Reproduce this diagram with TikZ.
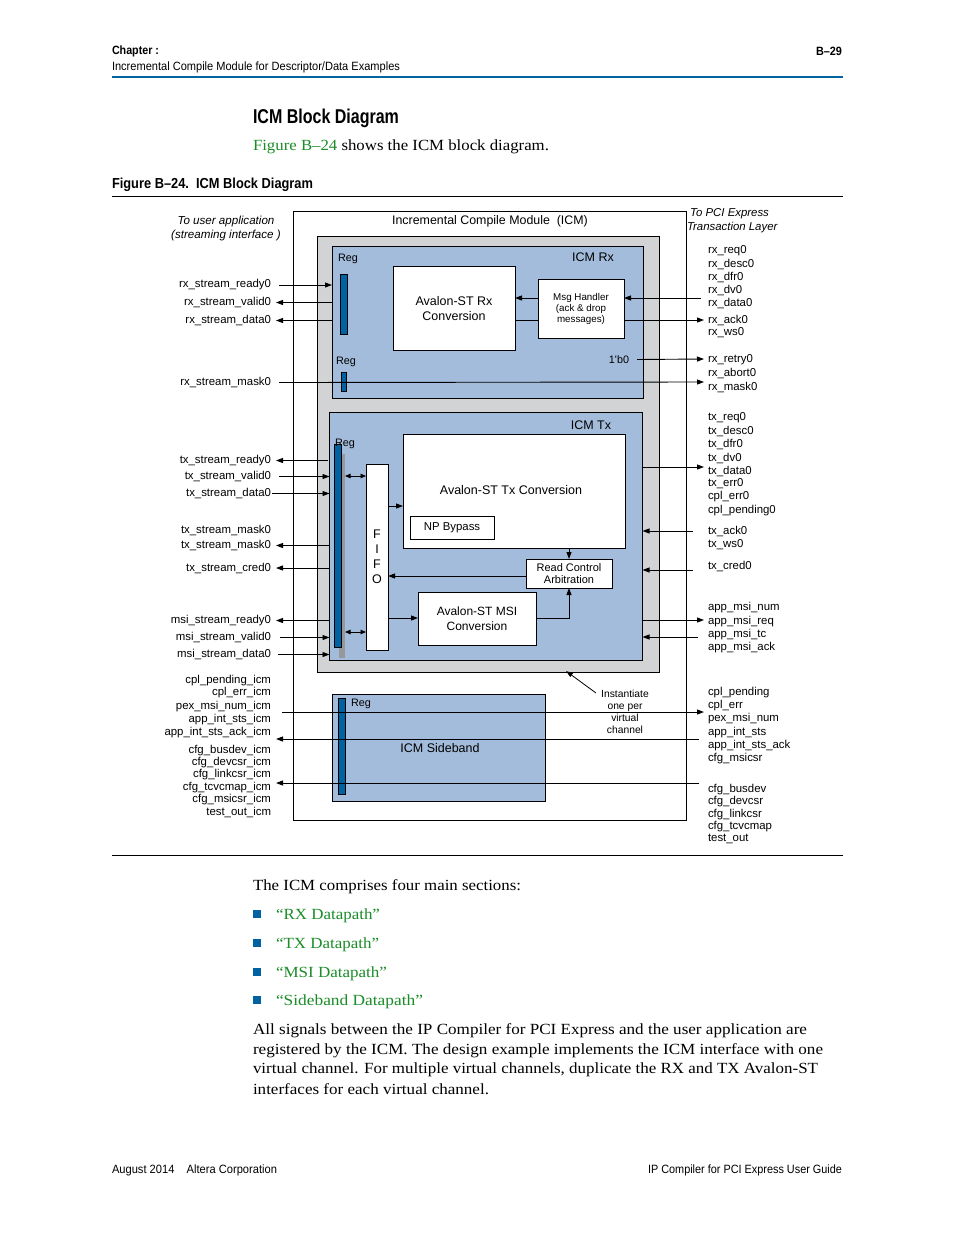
\documentclass[tikz,border=0pt]{standalone}
\usepackage{fontspec}
\usepackage{graphicx}
\setmainfont{Liberation Serif}
\setsansfont{Liberation Sans}
\usetikzlibrary{arrows.meta}
\definecolor{gbox}{RGB}{209,211,212}
\definecolor{bbox}{RGB}{164,188,219}
\definecolor{regblue}{RGB}{0,98,160}
\definecolor{shadowgray}{RGB}{150,152,155}
\definecolor{hdrblue}{RGB}{0,102,161}
\definecolor{lnkgreen}{RGB}{26,140,40}
\newcommand{\hw}[2]{\resizebox{#1pt}{\height}{#2}}
\newcommand{\hdrf}{\sffamily\fontsize{12}{14}\selectfont}
\newcommand{\bodyf}{\rmfamily\fontsize{15.5}{18}\selectfont}
\tikzset{
  sig/.style={font=\sffamily\fontsize{11.4}{13}\selectfont, inner sep=0pt, outer sep=0pt},
  L/.style={sig, anchor=east},
  R/.style={sig, anchor=west},
  txt/.style={inner sep=0pt, outer sep=0pt},
  blk/.style={draw, line width=1pt, inner sep=0pt, outer sep=0pt},
  wbox/.style={blk, fill=white, font=\sffamily\fontsize{12}{14.5}\selectfont, align=center},
  regbar/.style={blk, fill=regblue},
  ar/.style={line width=0.9pt, -{Triangle[length=7pt,width=5pt]}},
  dar/.style={line width=0.9pt, {Triangle[length=5.5pt,width=4.5pt]}-{Triangle[length=5.5pt,width=4.5pt]}},
  ln/.style={line width=0.9pt},
}
\begin{document}
\begin{tikzpicture}[x=1pt,y=-1pt]
\useasboundingbox (0,0) rectangle (954,1235);
\fill[white] (0,0) rectangle (954,1235);

% ---------- page header ----------
\node[txt, anchor=west] (hch) at (112,51.5) {\hw{47}{\hdrf\bfseries Chapter :}};
\node[txt, anchor=east] (hpg) at (842,51.5) {\hw{26}{\hdrf\bfseries B–29}};
\node[txt, anchor=west] (hinc) at (112,67.5) {\hw{288}{\hdrf Incremental Compile Module for Descriptor/Data Examples}};
\draw[line width=2.6pt, hdrblue] (112,77) -- (843,77);

\node[txt, anchor=west] (title) at (253,118.5) {\hw{146}{\sffamily\bfseries\fontsize{20}{24}\selectfont ICM Block Diagram}};
\node[txt, anchor=west] (intro) at (253,146.5) {\hw{296}{\bodyf\textcolor{lnkgreen}{Figure B–24} shows the ICM block diagram.}};
\node[txt, anchor=west] (figcap) at (112,184.5) {\hw{201}{\sffamily\bfseries\fontsize{14.5}{16}\selectfont Figure B–24.\ \ ICM Block Diagram}};
\draw[line width=0.8pt] (112,196) -- (843,196);

% ---------- boxes ----------
\node[blk, minimum width=393pt, minimum height=609pt] (icm) at (489.5,515.5) {};
\node[sig, font=\sffamily\fontsize{12.4}{13}\selectfont] (icmt) at (490,221) {Incremental Compile Module\ \ (ICM)};
\node[blk, fill=gbox, minimum width=342pt, minimum height=436pt] (gray) at (488,454) {};

% RX
\node[blk, fill=bbox, minimum width=311pt, minimum height=152pt] (rx) at (487.5,322) {};
\node[sig, font=\sffamily\fontsize{12.5}{14}\selectfont] (rxt) at (593,257.5) {ICM Rx};
\node[sig, font=\sffamily\fontsize{10.8}{12}\selectfont] (rxreg1l) at (348,259) {Reg};
\node[regbar, minimum width=7pt, minimum height=60pt] (rxreg1) at (343.5,304) {};
\node[sig, font=\sffamily\fontsize{10.8}{12}\selectfont] (rxreg2l) at (346,362) {Reg};
\node[regbar, minimum width=5.5pt, minimum height=19pt] (rxreg2) at (344,382) {};
\node[wbox, minimum width=122pt, minimum height=84pt, font=\sffamily\fontsize{12.5}{15}\selectfont] (avrx) at (454,308.5) {Avalon-ST Rx\\Conversion};
\node[wbox, minimum width=86pt, minimum height=59pt, font=\sffamily\fontsize{9.8}{11}\selectfont] (msg) at (581,309) {Msg Handler\\(ack \& drop\\messages)};
\node[sig, font=\sffamily\fontsize{10.8}{12}\selectfont] (b0) at (619,359.5) {1\textquotesingle b0};

% TX
\node[blk, fill=bbox, minimum width=313pt, minimum height=248pt] (tx) at (486,536.5) {};
\node[sig, font=\sffamily\fontsize{12.5}{14}\selectfont] (txt) at (591,425.5) {ICM Tx};
\node[fill=shadowgray, inner sep=0pt, minimum width=6pt, minimum height=204pt] (txsh) at (341.5,556) {};
\node[regbar, minimum width=7pt, minimum height=203pt] (txreg) at (337.5,545.5) {};
\node[sig, font=\sffamily\fontsize{10.8}{12}\selectfont] (txregl) at (345,444) {Reg};
\node[wbox, minimum width=22pt, minimum height=186pt, font=\sffamily\fontsize{12.5}{15}\selectfont] (fifo) at (377,557) {F\\I\\F\\O};
\node[blk, fill=white, minimum width=222pt, minimum height=114pt] (avtx) at (514,491) {};
\node[sig, font=\sffamily\fontsize{12.5}{14}\selectfont] (avtxt) at (511,490.5) {Avalon-ST Tx Conversion};
\node[wbox, minimum width=84pt, minimum height=23pt, font=\sffamily\fontsize{11.4}{13}\selectfont] (np) at (452,527.5) {NP Bypass};
\node[wbox, minimum width=86pt, minimum height=29pt, font=\sffamily\fontsize{11}{12}\selectfont] (rc) at (569,573.5) {Read Control\\Arbitration};
\node[wbox, minimum width=118pt, minimum height=53pt, font=\sffamily\fontsize{12}{15}\selectfont] (msi) at (477,618.5) {Avalon-ST MSI\\Conversion};

% Sideband
\node[blk, fill=bbox, minimum width=213pt, minimum height=107pt] (sb) at (439,747.5) {};
\node[regbar, minimum width=7pt, minimum height=96pt] (sbreg) at (342,746) {};
\node[sig, font=\sffamily\fontsize{10.8}{12}\selectfont] (sbregl) at (361,704) {Reg};
\node[sig, font=\sffamily\fontsize{12.5}{14}\selectfont] (sbt) at (440,748.5) {ICM Sideband};

% ---------- side headings ----------
\node[sig, font=\sffamily\itshape\fontsize{11.6}{14}\selectfont, align=center] (usr) at (226,228) {To user application\\(streaming interface )};
\node[sig, anchor=west, font=\sffamily\itshape\fontsize{11.4}{14}\selectfont, align=left] (pcie) at (687,221) {\ To PCI Express\\Transaction Layer};

% ---------- left labels ----------
\node[L] (lrxready) at (271,285) {rx\_stream\_ready0};
\node[L] (lrxvalid) at (271,302.5) {rx\_stream\_valid0};
\node[L] (lrxdata)  at (271,320.5) {rx\_stream\_data0};
\node[L] (lrxmask)  at (271,382.5) {rx\_stream\_mask0};
\node[L] (ltxready) at (271,460.5) {tx\_stream\_ready0};
\node[L] (ltxvalid) at (271,476.5) {tx\_stream\_valid0};
\node[L] (ltxdata)  at (271,493.5) {tx\_stream\_data0};
\node[L] (ltxmaska) at (271,530) {tx\_stream\_mask0};
\node[L] (ltxmask)  at (271,545.5) {tx\_stream\_mask0};
\node[L] (ltxcred)  at (271,568) {tx\_stream\_cred0};
\node[L] (lmsiready) at (271,620.5) {msi\_stream\_ready0};
\node[L] (lmsivalid) at (271,637.5) {msi\_stream\_valid0};
\node[L] (lmsidata)  at (271,654.5) {msi\_stream\_data0};
\foreach \t/\y [count=\i] in {cpl\_pending\_icm/681, cpl\_err\_icm/693, pex\_msi\_num\_icm/707, app\_int\_sts\_icm/720, app\_int\_sts\_ack\_icm/733, cfg\_busdev\_icm/751, cfg\_devcsr\_icm/763, cfg\_linkcsr\_icm/775, cfg\_tcvcmap\_icm/788, cfg\_msicsr\_icm/800, test\_out\_icm/812}
  \node[L] (lsb\i) at (271,\y) {\t};

% ---------- right labels ----------
\foreach \t/\y [count=\i] in {rx\_req0/251, rx\_desc0/264, rx\_dfr0/277, rx\_dv0/290, rx\_data0/303, rx\_ack0/320, rx\_ws0/333, rx\_retry0/360, rx\_abort0/373, rx\_mask0/387}
  \node[R] (rrx\i) at (708,\y) {\t};
\foreach \t/\y [count=\i] in {tx\_req0/418, tx\_desc0/431, tx\_dfr0/444, tx\_dv0/458, tx\_data0/471, tx\_err0/484, cpl\_err0/497, cpl\_pending0/511, tx\_ack0/531.5, tx\_ws0/544.5, tx\_cred0/566, app\_msi\_num/608, app\_msi\_req/622, app\_msi\_tc/635, app\_msi\_ack/648}
  \node[R] (rtx\i) at (708,\y) {\t};
\foreach \t/\y [count=\i] in {cpl\_pending/693, cpl\_err/706, pex\_msi\_num/719, app\_int\_sts/733, app\_int\_sts\_ack/746, cfg\_msicsr/759, cfg\_busdev/790, cfg\_devcsr/802, cfg\_linkcsr/815, cfg\_tcvcmap/827, test\_out/839}
  \node[R] (rsb\i) at (708,\y) {\t};

% ---------- free line ends ----------
\coordinate (e_rxdata) at (701,298);
\coordinate (e_rxack) at (704,320);
\coordinate (e_rxretry) at (704,359);
\coordinate (e_rxmask) at (704,382);
\coordinate (e_txdata) at (704,467);
\coordinate (e_txack) at (693,531);
\coordinate (e_txcred) at (693,570);
\coordinate (e_msireq) at (704,620);
\coordinate (e_msitc) at (698,637);
\coordinate (s_sb1) at (282,712);
\coordinate (e_sb1) at (704,712);
\coordinate (s_sb2) at (699,739);
\coordinate (e_sb2) at (276,739);
\coordinate (s_sb3) at (699,783);
\coordinate (e_sb3) at (276,783);
\coordinate (y_fifoav) at (0,506);
\coordinate (y_rcfifo) at (0,576);
\coordinate (y_fifomsi) at (0,618);
\coordinate (y_dar1) at (0,476);
\coordinate (y_dar2) at (0,632);

% ---------- RX connectors ----------
\draw[ar] ([xshift=8pt]lrxready.east) -- (rx.west |- lrxready.east);
\draw[ar] (rx.west |- lrxvalid.east) -- ([xshift=5pt]lrxvalid.east);
\draw[ar] (rx.west |- lrxdata.east) -- ([xshift=5pt]lrxdata.east);
\draw[ar] ([xshift=8pt]lrxmask.east) -- (e_rxmask);
\draw[ar] (e_rxdata) -- (msg.east |- e_rxdata);
\draw[ar] (msg.west |- e_rxdata) -- (avrx.east |- e_rxdata);
\draw[ln] (avrx.east |- e_rxack) -- (msg.west |- e_rxack);
\draw[ar] (msg.east |- e_rxack) -- (e_rxack);
\draw[ar] ([xshift=8pt]b0.east) -- (e_rxretry);

% ---------- TX connectors ----------
\draw[ar] ([xshift=-2pt]tx.west |- ltxready.east) -- ([xshift=5pt]ltxready.east);
\draw[ar] ([xshift=8pt]ltxvalid.east) -- (tx.west |- ltxvalid.east);
\draw[ar] ([xshift=1pt]ltxdata.east) -- (tx.west |- ltxdata.east);
\draw[ar] (tx.west |- ltxmask.east) -- ([xshift=5pt]ltxmask.east);
\draw[ar] (tx.west |- ltxcred.east) -- ([xshift=5pt]ltxcred.east);
\draw[ar] (tx.west |- lmsiready.east) -- ([xshift=5pt]lmsiready.east);
\draw[ar] ([xshift=9pt]lmsivalid.east) -- (tx.west |- lmsivalid.east);
\draw[ar] ([xshift=7pt]lmsidata.east) -- (tx.west |- lmsidata.east);
\draw[dar] ([xshift=4pt]txreg.east |- y_dar1) -- (fifo.west |- y_dar1);
\draw[dar] ([xshift=4pt]txreg.east |- y_dar2) -- (fifo.west |- y_dar2);
\draw[ar] (fifo.east |- y_fifoav) -- (avtx.west |- y_fifoav);
\draw[ar] (avtx.south -| rc.north) -- (rc.north);
\draw[ar] (rc.west |- y_rcfifo) -- (fifo.east |- y_rcfifo);
\draw[ar] (fifo.east |- y_fifomsi) -- (msi.west |- y_fifomsi);
\draw[ar] (msi.east |- y_fifomsi) -| (rc.south);
\draw[ar] (tx.east |- e_txdata) -- (e_txdata);
\draw[ar] (e_txack) -- (tx.east |- e_txack);
\draw[ar] (e_txcred) -- (tx.east |- e_txcred);
\draw[ar] (tx.east |- e_msireq) -- (e_msireq);
\draw[ar] (e_msitc) -- (tx.east |- e_msitc);

% ---------- sideband connectors ----------
\draw[ar] (s_sb1) -- (e_sb1);
\draw[ar] (s_sb2) -- (e_sb2);
\draw[ar] (s_sb3) -- (e_sb3);

% ---------- note ----------
\node[sig, font=\sffamily\fontsize{10.3}{11.8}\selectfont, align=center] (inst) at (625,712) {Instantiate\\one per\\virtual\\channel};
\draw[line width=0.8pt, -{Triangle[length=7pt,width=4.5pt]}] (596,693) -- (566,671);

% ---------- body ----------
\draw[line width=0.8pt] (112,855) -- (843,855);
\node[txt, anchor=west] (b0l) at (253,886.5) {\hw{268}{\bodyf The ICM comprises four main sections:}};
\foreach \t/\w/\y [count=\i] in {“RX Datapath”/104/914, “TX Datapath”/103/943, “MSI Datapath”/111/972, “Sideband Datapath”/147/1000} {
  \node[fill=regblue, inner sep=0pt, minimum size=8pt] (bul\i) at (257,\y) {};
  \node[txt, anchor=west] (bt\i) at (276,\y+1.5) {\hw{\w}{\bodyf\color{lnkgreen}\t}};
}
\node[txt, anchor=west] (p1) at (253,1030.5) {\hw{554}{\bodyf All signals between the IP Compiler for PCI Express and the user application are}};
\node[txt, anchor=west] (p2) at (253,1050.5) {\hw{570}{\bodyf registered by the ICM. The design example implements the ICM interface with one}};
\node[txt, anchor=west] (p3) at (253,1069.5) {\hw{565}{\bodyf virtual channel. For multiple virtual channels, duplicate the RX and TX Avalon-ST}};
\node[txt, anchor=west] (p4) at (253,1089.5) {\hw{236}{\bodyf interfaces for each virtual channel.}};

% ---------- footer ----------
\node[txt, anchor=west] (fl) at (112,1170) {\hw{165}{\hdrf August 2014\hspace{1.1em}Altera Corporation}};
\node[txt, anchor=east] (fr) at (842,1170) {\hw{194}{\hdrf IP Compiler for PCI Express User Guide}};
\end{tikzpicture}
\end{document}
